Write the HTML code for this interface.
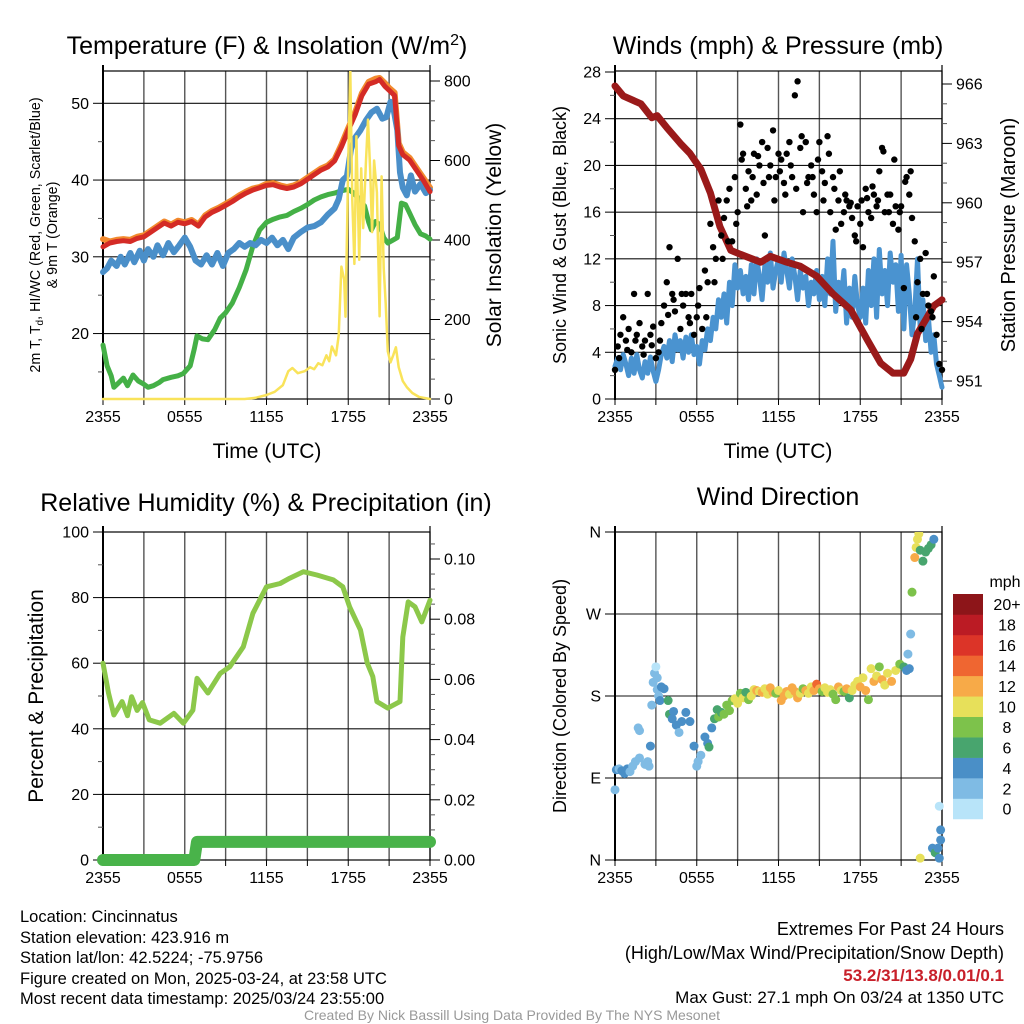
<!DOCTYPE html>
<html><head><meta charset="utf-8"><style>
html,body{margin:0;padding:0;background:#fff;}
svg{display:block;font-family:"Liberation Sans",Arial,sans-serif;}
</style></head><body>
<svg id="chart" width="1024" height="1024" viewBox="0 0 1024 1024">
<g id="texts" fill="#000">
<text x="267" y="54" font-size="25" text-anchor="middle">Temperature (F) &amp; Insolation (W/m<tspan dy="-9" font-size="16">2</tspan><tspan dy="9">)</tspan></text>
<text x="778" y="54" font-size="25" text-anchor="middle">Winds (mph) &amp; Pressure (mb)</text>
<text x="266" y="511" font-size="25" text-anchor="middle">Relative Humidity (%) &amp; Precipitation (in)</text>
<text x="778" y="505" font-size="25" text-anchor="middle">Wind Direction</text>
<text x="267" y="458" font-size="21" text-anchor="middle">Time (UTC)</text>
<text x="778" y="458" font-size="21" text-anchor="middle">Time (UTC)</text>
<text transform="translate(40,235) rotate(-90)" font-size="14.3" text-anchor="middle"><tspan x="0" dy="0">2m T, T<tspan font-size="10" dy="3">d</tspan><tspan dy="-3">, HI/WC (Red, Green, Scarlet/Blue)</tspan></tspan><tspan x="0" dy="17">&amp; 9m T (Orange)</tspan></text>
<text transform="translate(501,235) rotate(-90)" font-size="21" text-anchor="middle">Solar Insolation (Yellow)</text>
<text transform="translate(566,235) rotate(-90)" font-size="18" text-anchor="middle">Sonic Wind &amp; Gust (Blue, Black)</text>
<text transform="translate(1015,235) rotate(-90)" font-size="20" text-anchor="middle">Station Pressure (Maroon)</text>
<text transform="translate(43,696) rotate(-90)" font-size="21" text-anchor="middle">Percent &amp; Precipitation</text>
<text transform="translate(566,696) rotate(-90)" font-size="18" text-anchor="middle">Direction (Colored By Speed)</text>
<text x="1005" y="587" font-size="16" text-anchor="middle">mph</text>
<g font-size="16.5">
<text x="20" y="922">Location: Cincinnatus</text>
<text x="20" y="943">Station elevation: 423.916 m</text>
<text x="20" y="963">Station lat/lon: 42.5224; -75.9756</text>
<text x="20" y="984">Figure created on Mon, 2025-03-24, at 23:58 UTC</text>
<text x="20" y="1004">Most recent data timestamp: 2025/03/24 23:55:00</text>
</g>
<g font-size="18" text-anchor="end">
<text x="1004" y="935">Extremes For Past 24 Hours</text>
<text x="1004" y="959">(High/Low/Max Wind/Precipitation/Snow Depth)</text>
<text x="1004" y="981" fill="#c8202a" font-weight="bold" font-size="17">53.2/31/13.8/0.01/0.1</text>
<text x="1004" y="1003" font-size="17">Max Gust: 27.1 mph On 03/24 at 1350 UTC</text>
</g>
<text x="512" y="1020" font-size="14" fill="#999" text-anchor="middle">Created By Nick Bassill Using Data Provided By The NYS Mesonet</text>
</g>
</svg>
<script>
// ---------- data ----------
const xTickLabels = ["2355","0555","1155","1755","2355"];
const tempT = [0,0.5,1,1.5,2,2.5,3,3.5,4,4.5,5,5.5,6,6.5,7,7.5,8,8.5,9,9.5,10,10.5,11,11.5,12,12.5,13,13.5,14,14.5,15,15.5,16,16.5,17,17.5,18,18.5,19,19.5,20,20.3,20.7,21,21.4,21.7,22,22.5,23,23.5,24];
const tempV = [31.3,31.8,32,32.1,32,32.4,32.6,33.2,33.8,34.4,34,34.5,34.3,34.6,34,35.2,35.8,36.2,36.7,37.2,37.8,38.3,38.7,39,39.3,39.4,39.1,38.9,39.1,39.5,40.1,40.7,41.3,41.7,42.5,44.3,46.5,48.5,51,52.5,52.8,53.1,52.2,51.7,51,44.5,43.3,42.6,41.3,40,38.5];
const t9mV = [32.3,32,32.2,32.3,32.2,32.6,32.8,33.4,34,34.6,34.2,34.7,34.5,34.8,34.2,35.4,36,36.4,36.9,37.4,38,38.5,38.9,39.1,39.5,39.6,39.3,39.1,39.3,39.7,40.3,40.9,41.5,41.9,42.7,44.6,46.8,48.8,51.3,52.8,53.2,53.3,52.6,52,51.4,44.8,43.6,42.9,41.6,40.3,39];
const wcT = [0,0.3,0.6,1,1.3,1.6,2,2.3,2.7,3,3.3,3.7,4,4.4,4.8,5.2,5.6,6,6.4,6.8,7.2,7.6,8,8.4,8.8,9.2,9.6,10,10.4,10.8,11.2,11.6,12,12.4,12.8,13.2,13.6,14,14.5,15,15.5,16,16.5,17,17.3,17.6,17.9,18.2,18.5,18.9,19.3,19.7,20.1,20.5,20.8,21.1,21.3,21.6,21.8,22,22.3,22.6,22.9,23.3,23.7,24];
const wcV = [28,28.5,29.5,28.8,30,29,30.5,29.3,30.8,29.5,31,30,31.5,30.2,31.8,30.6,31.5,32.5,31.3,29.5,29,30.2,29,30.5,28.8,30.5,31,31.8,31.3,31.8,31.5,32.2,31.8,32.5,31.5,32.2,31,32.5,33.2,33.8,34,34.5,35.5,36.3,37.5,40,40.5,44,45.5,46.5,47.8,48.8,49.3,48,48.2,50.2,49.5,46.5,41,39,38,40.6,38.5,39.5,38.3,38.7];
const tdT = [0,0.3,0.6,0.8,1.1,1.5,1.8,2.2,2.6,3,3.3,3.7,4.1,4.4,5,5.5,5.9,6.4,6.7,6.9,7.3,7.7,8.2,8.6,9,9.5,10,10.5,11,11.5,12,12.5,13,13.5,14,14.5,15,15.5,16,16.5,17,17.5,18,18.4,18.8,19.2,19.5,19.7,20,20.3,20.6,20.9,21.3,21.6,21.9,22.2,22.5,22.9,23.3,23.7,24];
const tdV = [18.5,15.8,14.5,13,13.5,14.2,13.2,14.6,13.8,13.4,13,13.2,13.6,14,14.3,14.5,14.8,15.8,18,19.7,19.3,19.2,20.5,22,22.7,24,26,28.3,31.4,33.5,34.5,34.9,35.2,35.4,35.9,36.3,36.8,37.4,37.8,38.1,38.3,38.6,38.8,38.3,37.5,36.6,34.5,33.5,34.6,34.2,32.5,31.8,32.2,32.5,37,36.8,35.7,34.2,33,32.7,32.3];
const solarT = [0,10.4,11.2,12,12.6,13.2,13.6,13.9,14.3,14.8,15.2,15.5,15.8,16.1,16.4,16.6,16.8,17.1,17.3,17.5,17.7,17.8,18.0,18.15,18.3,18.45,18.6,18.8,18.95,19.1,19.3,19.45,19.6,19.75,19.9,20.1,20.3,20.45,20.6,20.75,20.9,21.1,21.3,21.5,21.7,22,22.3,22.7,23.2,23.7,24];
const solarV = [0,0,3,10,18,35,70,78,65,70,80,75,90,85,110,95,132,110,160,333,300,207,600,825,500,340,661,350,580,430,600,703,580,420,600,520,208,560,330,240,120,92,110,130,80,45,30,15,5,2,0];
const windV = [2.8,3.5,2.5,3.8,3,2,3.5,2.2,3.8,2.5,1.8,3.2,2.2,3.6,2.4,1.5,
2.5,3.8,4.5,3.5,5,3.2,5.5,4.2,5,3.5,5.3,4,5.5,3.8,4.5,
3,5,4.2,6,5,7,6,8.5,7,9,6.5,10,8,11.5,9.5,
11,9,10.5,8.5,11.5,9,12,10.5,8.5,11.5,10,12.5,9.5,11,12,
10,12.5,11,9.5,12,10.5,8.5,11,9.5,10.5,8,10,9,11,8.5,
10.5,8,12,9,13.5,7.5,10,8.5,11,6.5,9.5,7,10.5,8,7,
9.5,6.5,11,8,12,7,12.8,9,11,8,12.5,10,11.5,7.5,12.3,
6,11.5,9,5.5,7.5,12,6,8.5,5,7,4,5.5,3,2,1];
const gustT = [0,0.2,0.4,0.6,0.8,1,1.2,1.4,1.6,1.8,2,2.2,2.4,2.6,2.8,3,3.2,3.4,3.6,3.8,4,4.2,4.4,4.6,4.8,5,5.2,5.4,5.6,5.8,6,6.2,6.4,6.6,6.8,7,7.2,7.4,7.6,7.8,8,8.2,8.4,8.6,8.8,9,9.2,9.4,9.6,9.8,10,10.2,10.4,10.6,10.8,11,11.2,11.4,11.6,11.8,12,12.2,12.4,12.6,12.8,13,13.2,13.4,13.6,13.8,14,14.2,14.4,14.6,14.8,15,15.2,15.4,15.6,15.8,16,16.2,16.4,16.6,16.8,17,17.2,17.4,17.6,17.8,18,18.2,18.4,18.6,18.8,19,19.2,19.4,19.6,19.8,20,20.2,20.4,20.6,20.8,21,21.2,21.4,21.6,21.8,22,22.2,22.4,22.6,22.8,23,23.2,23.4,23.6,23.8,24,
0.3,0.9,1.5,2.1,2.7,3.3,3.9,4.3,4.9,5.5,6.1,6.7,7.3,7.9,8.3,8.9,9.3,9.7,10.1,10.5,10.9,11.3,11.7,12.1,12.5,12.9,13.3,13.7,14.1,14.5,14.9,15.3,15.7,16.1,16.5,16.9,17.3,17.7,18.1,18.5,18.9,19.3,19.7,20.1,20.5,20.9,21.3,21.7,22.1,22.5,22.9,23.3];
const gustV = [2.5,4.5,5.5,7,5,6,4,9,5.5,6.5,4.5,5,9,5.5,6.2,3.5,4,6.5,8,10,13,9,7.5,12,6,8,9,7,9,5.5,7,9.5,6,11,10,15,13,12,17,14,15.5,17,18,13.5,19,16,23.5,21,18,19.5,17,21,17.5,20,22,14,21.5,20,23,19,21,20.5,18.5,21,22,19,26,27.2,21.5,16,22,19,20,17.5,16,22,19.5,18.5,22.5,16,19,14.5,17,15,16,17,16.5,15.5,14,16.5,15,13,18,16,15.5,17.5,16.5,19.5,21.5,16,17.5,17.5,15,16.5,14.5,16.5,9.5,19,17.5,15.5,13.5,10,12,9,12.5,8,7.5,10.5,5.5,3,2.5,
3.5,4.2,5,3.8,4.6,5,7.2,8.5,9,6.5,8,7,10,12,13.5,15,20.5,16.5,19,20.8,18.5,19,17,19.5,17.5,20,18,22.5,18.5,19,20.5,17,21,18,19.5,17.5,16.8,13.5,17,17.2,18.2,17,21.2,16,20.5,16,18.6,19.5,7,6,9,7];
const presT = [0,0.6,1.9,2.7,3.1,3.8,4.8,5.5,6.3,7,7.7,8.5,9.2,10.7,11.4,12.6,13.6,14.8,16,17.3,18.5,19.5,20.4,21.2,21.7,22.2,22.9,23.4,24];
const presV = [965.9,965.4,965.0,964.3,964.4,963.8,963.0,962.5,961.7,960.5,958.8,957.6,957.4,957.0,957.3,957.0,956.8,956.3,955.4,954.6,953.1,951.9,951.4,951.4,952.1,953.4,954.2,954.8,955.1];
const rhT = [0,0.4,0.8,1.4,1.8,2.1,2.5,2.9,3.4,4.2,5.2,5.9,6.6,6.9,7.7,8.6,9.3,10.3,11,12,13,13.7,14.7,15.7,16.9,17.6,18.1,18.9,19.4,19.8,20.1,20.9,21.8,22.0,22.4,22.9,23.4,24];
const rhV = [60,50.9,44.2,48.3,44,49.8,45.6,48,42.7,41.7,44.7,41.7,45.7,55.4,50.9,56.9,58.9,65,75.2,83.3,84.3,85.9,87.9,86.9,85.4,83.3,77.2,70.1,60,55.9,48.3,46.3,48.3,68,78.7,77.2,72.6,79.2];
const precipT = [0,6.7,6.9,24];
const precipV = [0,0,0.006,0.006];
const dirT = [0,0.1,0.3,0.5,0.7,0.9,1.1,1.3,1.5,1.8,2.2,2.4,2.5,1.7,1.8,2.6,2.7,2.8,2.9,3.0,3.1,3.1,3.2,3.3,3.4,3.6,3.9,4.0,4.2,4.3,4.5,4.7,4.9,5.2,5.5,5.8,6.0,6.1,6.3,6.6,6.8,6.9,7.1,7.3,7.5,7.6,7.8,8.0,8.2,8.4,8.6,8.8,9.0,9.2,9.4,9.6,9.8,10.0,10.2,10.4,10.6,10.8,11.0,11.2,11.4,11.6,11.8,12.0,12.2,12.4,12.6,12.8,13.0,13.2,13.4,13.6,13.8,14.0,14.2,14.4,14.6,14.8,15.0,15.2,15.4,15.6,15.8,16.0,16.2,16.4,16.6,16.8,17.0,17.2,17.4,17.6,17.8,18.0,18.2,18.4,18.6,18.8,19.0,19.2,19.4,19.6,19.8,20.0,20.3,20.6,20.9,21.2,21.4,21.6,21.5,21.7,21.8,22.0,22.1,22.2,22.3,22.4,22.6,22.8,23.0,23.2,23.4,22.4,23.3,23.5,23.7,23.8,23.9,23.8,23.9];
const dirD = [77,99,100,98,95,100,97,103,108,112,105,108,103,145,142,125,170,195,205,212,200,187,180,175,190,188,175,160,155,163,148,140,152,162,152,125,103,108,115,135,128,124,145,155,165,157,162,160,170,164,175,177,172,183,178,184,176,180,187,186,185,184,188,182,189,184,183,186,175,180,185,182,189,185,178,183,188,186,183,190,186,193,188,185,189,184,187,182,176,190,186,185,188,178,186,192,196,190,200,186,176,210,196,202,212,198,192,205,196,208,215,212,208,210,226,248,294,332,343,352,358,340,328,338,342,346,352,2,13,8,13,2,22,59,33];
const dirS = [2,4,3,4,4,4,3,2,2,2,2,2,3,2,2,4,2,2,2,1,2,2,2,4,4,4,6,6,4,4,4,2,4,4,4,4,2,2,2,4,4,6,4,6,6,8,6,8,8,8,8,10,10,8,10,6,8,10,10,12,10,12,10,10,12,12,8,10,12,12,12,10,12,12,12,10,8,12,10,10,12,14,12,8,10,10,10,8,8,12,10,8,12,6,10,10,10,12,10,12,8,10,12,10,8,12,10,10,12,10,8,6,4,4,2,2,8,12,10,10,10,6,6,6,6,6,4,10,4,6,4,4,4,0,4];
const speedBins = ["0","2","4","6","8","10","12","14","16","18","20+"];
const speedColors = ["#b8e4f9","#7fbbe4","#4a8fc7","#48a56e","#7dc24b","#e7e05a","#f7aa48","#ef6631","#dc3428","#bb1b24","#8d1519"];

// ---------- helpers ----------
const NS = "http://www.w3.org/2000/svg";
const svg = document.getElementById("chart");
function mk(tag, attrs, parent){
  const e = document.createElementNS(NS, tag);
  for (const k in attrs) e.setAttribute(k, attrs[k]);
  (parent||svg).appendChild(e);
  return e;
}
function lin(d0,d1,r0,r1){ return v => r0 + (v-d0)*(r1-r0)/(d1-d0); }

const P1 = {x0:103, x1:430, y0:71, y1:399};
const P2 = {x0:615, x1:942, y0:71, y1:399};
const P3 = {x0:103, x1:430, y0:532, y1:860};
const P4 = {x0:615, x1:942, y0:532, y1:860};
const TICK_FS = 16;

function frame(P, name, gridYs){
  const g = mk("g", {});
  
  
  const xs = lin(0,24,P.x0,P.x1);
  for (let h=3; h<24; h+=3){
    const l = mk("line", {x1:xs(h), x2:xs(h), y1:P.y0, y2:P.y1, stroke:"#555", "stroke-width":1.4}, g);
    
    
  }
  gridYs.forEach(y=>{
    const l = mk("line", {x1:P.x0, x2:P.x1, y1:y, y2:y, stroke:"#111", "stroke-width":1.1}, g);
    
    
  });
  const r = mk("rect", {x:P.x0, y:P.y0, width:P.x1-P.x0, height:P.y1-P.y0, fill:"none", stroke:"#000", "stroke-width":1.2}, g);
  
  
  mk("line", {x1:P.x0, x2:P.x0, y1:P.y0-6, y2:P.y1+1, stroke:"#000", "stroke-width":2}, g);
  mk("line", {x1:P.x1, x2:P.x1, y1:P.y0-6, y2:P.y1+1, stroke:"#000", "stroke-width":1.2}, g);
  for (let h=0; h<=24; h+=3){
    mk("line", {x1:xs(h), x2:xs(h), y1:P.y1, y2:P.y1+6, stroke:"#000"}, g);
  }
  xTickLabels.forEach((lab,i)=>{
    const t = mk("text", {x:xs(i*6), y:P.y1+23, "font-size":TICK_FS, "text-anchor":"middle"}, g);
    t.textContent = lab;
    
    
  });
  return xs;
}
function yAxis(P, scale, majors, minors, labels, side, name){
  const g = mk("g", {});
  
  
  const x = side==="left" ? P.x0 : P.x1;
  const d = side==="left" ? -1 : 1;
  minors.forEach(v=>{ mk("line", {x1:x, x2:x+d*5, y1:scale(v), y2:scale(v), stroke:"#555"}, g); });
  majors.forEach((v,i)=>{
    mk("line", {x1:x, x2:x+d*10, y1:scale(v), y2:scale(v), stroke:"#000"}, g);
    const t = mk("text", {x:x+d*14, y:scale(v)+5.5, "font-size":TICK_FS, "text-anchor": side==="left"?"end":"start"}, g);
    t.textContent = labels[i];
    
    
  });
}
function pathOf(ts, vs, xs, ys){
  return ts.map((t,i)=>(i?"L":"M")+xs(t).toFixed(1)+","+ys(vs[i]).toFixed(1)).join(" ");
}
function line(ts, vs, xs, ys, color, w, name, clip){
  const p = mk("path", {d:pathOf(ts,vs,xs,ys), fill:"none", stroke:color, "stroke-width":w, "stroke-linejoin":"round", "stroke-linecap":"round"});
  if (clip) p.setAttribute("clip-path", clip);
  
  
  return p;
}
const defs = mk("defs", {});
[["c1",P1],["c2",P2],["c3",P3],["c4",P4]].forEach(([id,P])=>{
  const cp = mk("clipPath", {id:id}, defs);
  mk("rect", {x:P.x0-6, y:P.y0, width:P.x1-P.x0+12, height:P.y1-P.y0+6}, cp);
});

// ---------- panel 1 ----------
{
  const yL = lin(10,50,410.3,103.3);
  const yR = lin(0,800,399,81);
  frame(P1, "temp-panel-frame", [20,30,40,50].map(yL));
  yAxis(P1, yL, [20,30,40,50], [15,25,35,45], ["20","30","40","50"], "left", "temp-left-axis");
  const mn=[]; for(let v=50; v<=800; v+=50) if (v%200) mn.push(v);
  yAxis(P1, yR, [0,200,400,600,800], mn, ["0","200","400","600","800"], "right", "solar-right-axis");
  const xs = lin(0,24,P1.x0,P1.x1);
  line(tdT, tdV, xs, yL, "#44b046", 5, "dewpoint-line", "url(#c1)");
  line(tempT, t9mV, xs, yL, "#f28a2e", 6, "temp-9m-line", "url(#c1)");
  line(wcT, wcV, xs, yL, "#4a8fc9", 6, "windchill-line", "url(#c1)");
  line(tempT, tempV, xs, yL, "#d42b26", 5, "temp-2m-line", "url(#c1)");
  line(solarT, solarV, xs, yR, "#f9e35a", 2.5, "solar-line", "url(#c1)");
}
// ---------- panel 2 ----------
{
  const yL = lin(0,28,399,72);
  const yR = lin(951,966,381,84);
  frame(P2, "wind-panel-frame", [4,8,12,16,20,24].map(yL));
  const mj=[0,4,8,12,16,20,24,28];
  yAxis(P2, yL, mj, [2,6,10,14,18,22,26], mj.map(String), "left", "wind-left-axis");
  const pm=[951,954,957,960,963,966];
  yAxis(P2, yR, pm, [952,953,955,956,958,959,961,962,964,965], pm.map(String), "right", "pressure-right-axis");
  const xs = lin(0,24,P2.x0,P2.x1);
  const windT = windV.map((v,i)=>i*0.2);
  line(windT, windV, xs, yL, "#4a93d0", 5, "sonic-wind-line", "url(#c2)");
  line(presT, presV, xs, yR, "#9a1a1a", 7, "pressure-line", "url(#c2)");
  const g = mk("g", {});
  
  
  gustT.forEach((t,i)=>{
    const c = mk("circle", {cx:xs(t), cy:yL(gustV[i]), r:3.2, fill:"#000"}, g);
    
    
  });
}
// ---------- panel 3 ----------
{
  const yL = lin(0,100,860,532);
  const yR = lin(0,0.10,860,559);
  frame(P3, "rh-panel-frame", [20,40,60,80].map(yL));
  const mj=[0,20,40,60,80,100];
  yAxis(P3, yL, mj, [10,30,50,70,90], mj.map(String), "left", "rh-left-axis");
  const rj=[0,0.02,0.04,0.06,0.08,0.10], rmn=[];
  for (let v=0.005; v<0.11; v+=0.005) if (Math.abs(v/0.02-Math.round(v/0.02))>0.01) rmn.push(v);
  yAxis(P3, yR, rj, rmn, rj.map(v=>v.toFixed(2)), "right", "precip-right-axis");
  const xs = lin(0,24,P3.x0,P3.x1);
  line(rhT, rhV, xs, yL, "#8cc84a", 5, "rh-line", "url(#c3)");
  line(precipT, precipV, xs, yR, "#49b34a", 12, "precip-line", "url(#c3)");
}
// ---------- panel 4 ----------
{
  const yD = lin(0,360,860,532);
  frame(P4, "dir-panel-frame", [90,180,270].map(yD));
  const dl=["N","E","S","W","N"];
  yAxis(P4, yD, [0,90,180,270,360], [], dl, "left", "dir-left-axis");
  const xs = lin(0,24,P4.x0,P4.x1);
  const g = mk("g", {"clip-path":"url(#c4)"});
  
  
  dirT.forEach((t,i)=>{
    const bin = Math.min(10, Math.floor(dirS[i]/2));
    const c = mk("circle", {cx:xs(t), cy:yD(dirD[i]), r:4.5, fill:speedColors[bin]}, g);
    
    
  });
  const cb = mk("g", {});
  
  
  const bh = 20.45;
  speedBins.forEach((lab,i)=>{
    const y = 798.5 - i*bh;
    const r = mk("rect", {x:953, y:y, width:30, height:bh+0.3, fill:speedColors[i]}, cb);
    
    
    const t = mk("text", {x:1007, y:y+bh/2+6, "font-size":16, "text-anchor":"middle"}, cb);
    t.textContent = lab;
    
    
  });
}
</script>
</body></html>
